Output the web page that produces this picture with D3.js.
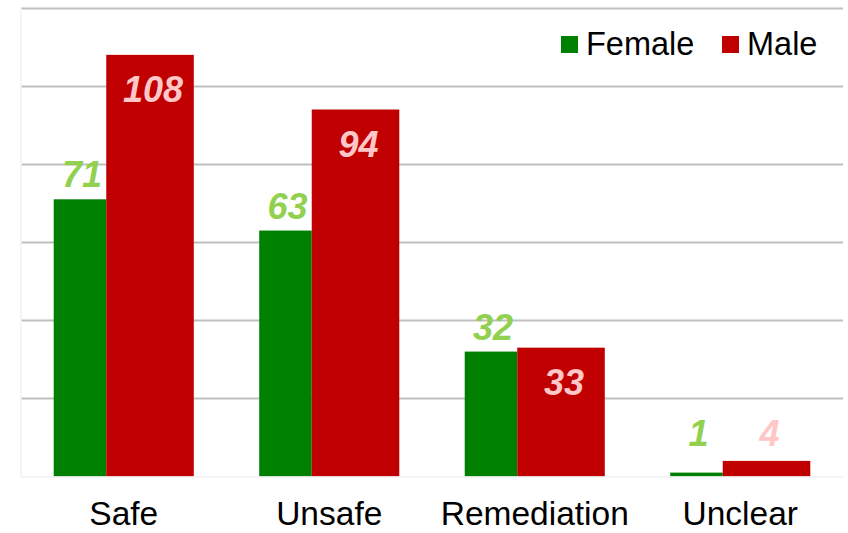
<!DOCTYPE html>
<html>
<head>
<meta charset="utf-8">
<script src="https://cdn.jsdelivr.net/npm/d3@7"></script>
<style>
  body { margin: 0; background: #fff; }
  svg { font-family: "Liberation Sans", Arial, sans-serif; }
</style>
</head>
<body>
<svg id="chart" width="848" height="533"></svg>
<script>
// Chart data
const categories = ["Safe", "Unsafe", "Remediation", "Unclear"];
const female = [71, 63, 32, 1];
const male = [108, 94, 33, 4];
const yTicks = [0, 20, 40, 60, 80, 100, 120];

const svg = d3.select("#chart");
const margin = { left: 21, right: 5, top: 8, bottom: 56.5 };
const width = +svg.attr("width"), height = +svg.attr("height");

const x = d3.scaleBand()
    .domain(categories)
    .range([margin.left, width - margin.right]);

const y = d3.scaleLinear()
    .domain([0, 120])
    .range([height - margin.bottom, margin.top]);

// bar geometry: male overlaps the female bar (only front part of female shows)
const barW = x.bandwidth() * 0.426;
const step = barW * 0.6;
const groupW = step + barW;
const groupStart = d => x(d) + (x.bandwidth() - groupW) / 2;

// Gridlines
svg.append("g")
    .attr("class", "grid")
    .selectAll("line")
    .data(yTicks.filter(t => t > 0))
    .enter().append("line")
    .attr("x1", margin.left)
    .attr("x2", width - margin.right)
    .attr("y1", d => Math.round(y(d)) + 0.5)
    .attr("y2", d => Math.round(y(d)) + 0.5)
    .style("stroke", "#BFBFBF")
    .style("stroke-width", "2px");

// faint axis lines
svg.append("line")
    .attr("x1", margin.left).attr("x2", margin.left)
    .attr("y1", y(120)).attr("y2", y(0))
    .style("stroke", "#F2F2F2").style("stroke-width", "1.5px");

const rows = categories.map((c, i) => ({ cat: c, f: female[i], m: male[i] }));

// Female bars
svg.append("g").selectAll("rect")
    .data(rows)
    .enter().append("rect")
    .attr("x", d => groupStart(d.cat))
    .attr("width", step)
    .attr("y", d => y(d.f))
    .attr("height", d => y(0) - y(d.f))
    .style("fill", "#008000");

// Male bars
svg.append("g").selectAll("rect")
    .data(rows)
    .enter().append("rect")
    .attr("x", d => groupStart(d.cat) + step)
    .attr("width", barW)
    .attr("y", d => y(d.m))
    .attr("height", d => y(0) - y(d.m))
    .style("fill", "#C00000");

// baseline
svg.append("line")
    .attr("x1", margin.left).attr("x2", width - margin.right)
    .attr("y1", y(0) + 0.5).attr("y2", y(0) + 0.5)
    .style("stroke", "#F2F2F2").style("stroke-width", "1.5px");

// Value labels
const labelFont = 36;
const minLabelY = y(0) - 31;

svg.append("g").selectAll("text")
    .data(rows)
    .enter().append("text")
    .attr("x", d => groupStart(d.cat) + step / 2 + 2)
    .attr("y", d => Math.min(y(d.f) - 12, minLabelY))
    .attr("text-anchor", "middle")
    .style("font-size", labelFont + "px")
    .style("font-weight", "bold")
    .style("font-style", "italic")
    .style("fill", "#92D050")
    .text(d => d.f);

svg.append("g").selectAll("text")
    .data(rows)
    .enter().append("text")
    .attr("x", d => groupStart(d.cat) + step + barW / 2 + 3)
    .attr("y", d => (y(0) - y(d.m) > 60) ? y(d.m) + 47 : Math.min(y(d.m) - 10, minLabelY))
    .attr("text-anchor", "middle")
    .style("font-size", labelFont + "px")
    .style("font-weight", "bold")
    .style("font-style", "italic")
    .style("fill", "#FFC7C7")
    .text(d => d.m);

// Category labels
svg.append("g").selectAll("text")
    .data(categories)
    .enter().append("text")
    .attr("x", d => x(d) + x.bandwidth() / 2)
    .attr("y", 525)
    .attr("text-anchor", "middle")
    .style("font-size", "33.5px")
    .style("fill", "#000")
    .text(d => d);

// Legend
const legend = [
    { name: "Female", color: "#008000", x: 561 },
    { name: "Male", color: "#C00000", x: 722 }
];
const lg = svg.append("g").selectAll("g")
    .data(legend)
    .enter().append("g")
    .attr("transform", d => `translate(${d.x},36)`);
lg.append("rect")
    .attr("width", 17).attr("height", 17)
    .style("fill", d => d.color);
lg.append("text")
    .attr("x", 25).attr("y", 19)
    .style("font-size", "32.5px")
    .style("fill", "#000")
    .text(d => d.name);
</script>
</body>
</html>
